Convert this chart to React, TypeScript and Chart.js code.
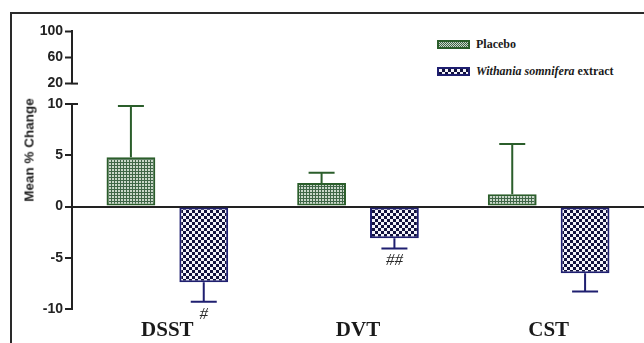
import React, { useEffect, useRef } from "react";
import { Chart, registerables } from "chart.js";
Chart.register(...registerables);

const categories = ["DSST", "DVT", "CST"];
const placebo = [4.8, 2.3, 1.2];
const placeboErr = [5.0, 1.0, 4.9];
const withania = [-7.4, -3.1, -6.5];
const withaniaErr = [1.9, 1.0, 1.8];
const withaniaSig = ["#", "##", ""];
const lowerTicks = [-10, -5, 0, 5, 10];
const upperTicks = [20, 60, 100];

const GREEN = "#2b5e2b";
const NAVY = "#1f1f70";
const AXIS = "#222222";

function makeGridPattern(dark: string, light: string) {
  const c = document.createElement("canvas");
  c.width = 3;
  c.height = 3;
  const ctx = c.getContext("2d")!;
  ctx.fillStyle = dark;
  ctx.fillRect(0, 0, 3, 3);
  ctx.fillStyle = light;
  ctx.fillRect(1, 1, 2, 2);
  return ctx.createPattern(c, "repeat");
}

function makeChecker(cell: number, a: string, b: string) {
  const c = document.createElement("canvas");
  c.width = cell * 2;
  c.height = cell * 2;
  const ctx = c.getContext("2d")!;
  ctx.fillStyle = b;
  ctx.fillRect(0, 0, cell * 2, cell * 2);
  ctx.fillStyle = a;
  ctx.fillRect(0, 0, cell, cell);
  ctx.fillRect(cell, cell, cell, cell);
  return ctx.createPattern(c, "repeat");
}

const tickFont = { family: '"Liberation Sans", Arial, sans-serif', size: 14, weight: "bold" as const };

const errorBarPlugin = {
  id: "errbars",
  afterDatasetsDraw(chart: any) {
    const ctx = chart.ctx;
    const y = chart.scales.y;
    chart.data.datasets.forEach((ds: any, i: number) => {
      const meta = chart.getDatasetMeta(i);
      meta.data.forEach((bar: any, j: number) => {
        const v = ds.data[j];
        const e = ds.errors[j];
        const end = v >= 0 ? v + e : v - e;
        const yv = y.getPixelForValue(v);
        const ye = y.getPixelForValue(end);
        ctx.save();
        ctx.strokeStyle = ds.borderColor;
        ctx.lineWidth = 2;
        ctx.beginPath();
        ctx.moveTo(bar.x, yv);
        ctx.lineTo(bar.x, ye);
        ctx.moveTo(bar.x - 13, ye);
        ctx.lineTo(bar.x + 13, ye);
        ctx.stroke();
        if (ds.sig && ds.sig[j]) {
          ctx.fillStyle = "#2a2a2a";
          ctx.font = 'italic 17px "Liberation Serif", serif';
          ctx.textAlign = "center";
          ctx.textBaseline = "top";
          ctx.fillText(ds.sig[j], bar.x, ye + 4);
        }
        ctx.restore();
      });
    });
  },
};

const breakPlugin = (where: "top" | "bottom") => ({
  id: "brk" + where,
  afterDraw(chart: any) {
    const ctx = chart.ctx;
    const a = chart.chartArea;
    const yy = where === "top" ? a.top : a.bottom;
    ctx.save();
    ctx.strokeStyle = AXIS;
    ctx.lineWidth = 2;
    ctx.beginPath();
    ctx.moveTo(a.left - 1, yy);
    ctx.lineTo(a.left + 6, yy);
    ctx.stroke();
    ctx.restore();
  },
});

export default function App() {
  const lowerRef = useRef<HTMLCanvasElement>(null);
  const upperRef = useRef<HTMLCanvasElement>(null);

  useEffect(() => {
    const pPat = makeGridPattern("#3f6647", "#c9d7c9");
    const wPat = makeChecker(3, "#12123e", "#f4f4fa");

    const lower = new Chart(lowerRef.current!, {
      type: "bar",
      data: {
        labels: categories,
        datasets: [
          {
            label: "Placebo",
            data: placebo,
            errors: placeboErr,
            backgroundColor: pPat as any,
            borderColor: GREEN,
            borderWidth: 2,
            borderSkipped: false,
            categoryPercentage: 0.764,
            barPercentage: 0.67,
          } as any,
          {
            label: "Withania somnifera extract",
            data: withania,
            errors: withaniaErr,
            sig: withaniaSig,
            backgroundColor: wPat as any,
            borderColor: NAVY,
            borderWidth: 2,
            borderSkipped: false,
            categoryPercentage: 0.764,
            barPercentage: 0.67,
          } as any,
        ],
      },
      options: {
        animation: false,
        responsive: false,
        layout: { padding: { top: 14, left: 0, right: 0, bottom: 0 } },
        plugins: { legend: { display: false }, tooltip: { enabled: false } },
        scales: {
          x: {
            afterFit: (s: any) => {
              s.height = 34;
            },
            grid: { display: false, drawTicks: false },
            border: { display: false },
            ticks: {
              font: { family: '"Liberation Serif", "Times New Roman", serif', size: 21, weight: "bold" },
              color: "#1a1a1a",
              padding: 9,
            },
          },
          y: {
            min: -10,
            max: 10,
            afterBuildTicks: (s: any) => {
              s.ticks = lowerTicks.map((v) => ({ value: v }));
            },
            afterFit: (s: any) => {
              s.width = 72;
            },
            border: { color: AXIS, width: 2 },
            grid: {
              color: (c: any) => (c.tick && c.tick.value === 0 ? AXIS : "rgba(0,0,0,0)"),
              lineWidth: 2,
              tickColor: AXIS,
              tickLength: 7,
              tickWidth: 2,
            },
            ticks: { font: tickFont, color: AXIS, padding: 2 },
          },
        },
      },
      plugins: [errorBarPlugin, breakPlugin("top")],
    });

    const upper = new Chart(upperRef.current!, {
      type: "bar",
      data: { labels: [""], datasets: [] },
      options: {
        animation: false,
        responsive: false,
        layout: { padding: { top: 13, bottom: 8, left: 0, right: 0 } },
        plugins: { legend: { display: false }, tooltip: { enabled: false } },
        scales: {
          x: { display: false },
          y: {
            min: 20,
            max: 100,
            afterBuildTicks: (s: any) => {
              s.ticks = upperTicks.map((v) => ({ value: v }));
            },
            afterFit: (s: any) => {
              s.width = 72;
            },
            border: { color: AXIS, width: 2 },
            grid: {
              drawOnChartArea: false,
              tickColor: AXIS,
              tickLength: 7,
              tickWidth: 2,
            },
            ticks: { font: tickFont, color: AXIS, padding: 2 },
          },
        },
      },
      plugins: [breakPlugin("bottom")],
    });

    return () => {
      lower.destroy();
      upper.destroy();
    };
  }, []);

  const swatchBase: React.CSSProperties = {
    position: "absolute",
    left: 437,
    width: 33,
    height: 9,
    boxSizing: "border-box",
  };
  const legendText: React.CSSProperties = {
    position: "absolute",
    left: 476,
    font: 'bold 12px "Liberation Serif", "Times New Roman", serif',
    color: "#1a1a1a",
    whiteSpace: "nowrap",
    lineHeight: "14px",
  };

  return (
    <div
      style={{
        position: "fixed",
        left: 0,
        top: 0,
        width: 644,
        height: 343,
        background: "#fff",
        overflow: "hidden",
      }}
    >
      <div
        style={{
          position: "absolute",
          left: 10,
          top: 12,
          width: 700,
          height: 400,
          borderTop: "2px solid #2a2a2a",
          borderLeft: "2px solid #2a2a2a",
        }}
      />
      <canvas
        ref={upperRef}
        width={200}
        height={76}
        style={{ position: "absolute", left: 0, top: 18, width: 200, height: 76 }}
      />
      <canvas
        ref={lowerRef}
        width={644}
        height={253}
        style={{ position: "absolute", left: 0, top: 90, width: 644, height: 253 }}
      />
      <div
        style={{
          position: "absolute",
          left: 29,
          top: 150,
          transform: "translate(-50%, -50%) rotate(-90deg)",
          font: 'bold 13.5px "Liberation Sans", Arial, sans-serif',
          color: AXIS,
          whiteSpace: "nowrap",
        }}
      >
        Mean % Change
      </div>
      <div
        style={{
          ...swatchBase,
          top: 40,
          border: `2px solid ${GREEN}`,
          background: `repeating-conic-gradient(#3f6647 0 25%, #c9d7c9 0 50%) 0 0 / 2px 2px`,
        }}
      />
      <div style={{ ...legendText, top: 37 }}>Placebo</div>
      <div
        style={{
          ...swatchBase,
          top: 67,
          border: `2px solid ${NAVY}`,
          background: `repeating-conic-gradient(#12123e 0 25%, #f4f4fa 0 50%) 0 0 / 6px 6px`,
        }}
      />
      <div style={{ ...legendText, top: 64 }}>
        <i>Withania somnifera</i> extract
      </div>
    </div>
  );
}
